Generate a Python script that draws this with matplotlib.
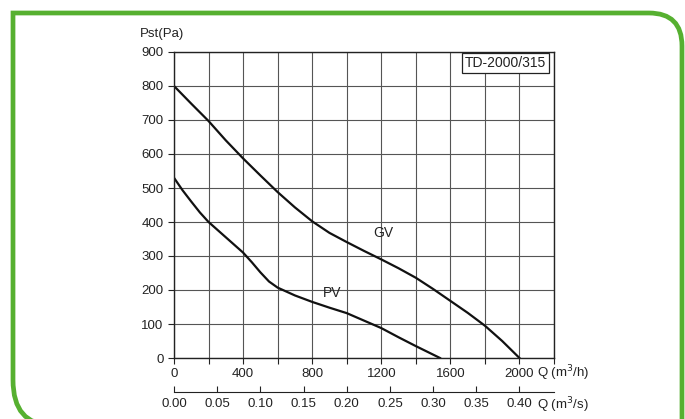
import matplotlib.pyplot as plt
from matplotlib.path import Path
from matplotlib.patches import PathPatch

plt.rcParams['font.family'] = ['Liberation Sans', 'DejaVu Sans']

# curve data (Q in m3/h, Pst in Pa)
gv_q = [0, 100, 200, 300, 400, 500, 600, 700, 800, 900, 1000,
        1100, 1200, 1300, 1400, 1500, 1600, 1700, 1800, 1900, 2000]
gv_p = [800, 748, 697, 640, 587, 537, 488, 443, 402, 368, 341,
        315, 290, 264, 236, 203, 168, 133, 95, 50, 0]

pv_q = [0, 50, 100, 150, 200, 300, 400, 450, 500, 550, 600, 700, 800, 900, 1000,
        1100, 1200, 1300, 1400, 1540]
pv_p = [530, 493, 460, 428, 400, 355, 310, 282, 252, 225, 207, 184, 165, 148, 132,
        110, 88, 61, 35, 0]

y_ticks = [0, 100, 200, 300, 400, 500, 600, 700, 800, 900]
x_labels = [0, 400, 800, 1200, 1600, 2000]
q_s_ticks = [0.00, 0.05, 0.10, 0.15, 0.20, 0.25, 0.30, 0.35, 0.40]

W, H = 685, 419
fig = plt.figure(figsize=(W / 100, H / 100), dpi=100)

# green frame around the card
green = '#56b030'
verts = [(52, H + 6), (13, H + 6), (13, 380), (13, 13), (682 - 33, 13),
         (682, 13), (682, 13 + 33), (682, H + 5)]
codes = [Path.MOVETO, Path.CURVE3, Path.CURVE3, Path.LINETO, Path.LINETO,
         Path.CURVE3, Path.CURVE3, Path.LINETO]
fverts = [(x / W, 1 - y / H) for x, y in verts]
fig.patches.append(PathPatch(Path(fverts, codes), transform=fig.transFigure, fill=False,
                             edgecolor=green, lw=3.4, clip_on=False))

ax = fig.add_axes([174 / W, (H - 358) / H, 380 / W, 306 / H])
ax.set_xlim(0, 2200)
ax.set_ylim(0, 900)

ax.set_yticks(y_ticks)
ax.set_xticks(range(0, 2201, 200))
ax.set_xticklabels([str(v) if v in x_labels else '' for v in range(0, 2201, 200)])
ax.grid(True, color='#555555', lw=0.8)
ax.set_axisbelow(True)
for s in ax.spines.values():
    s.set_color('#222222')
    s.set_linewidth(1.0)
ax.tick_params(colors='#222222', labelsize=9.5, length=4, width=0.8)

ax.plot(gv_q, gv_p, color='#111111', lw=1.6)
ax.plot(pv_q, pv_p, color='#111111', lw=1.6)

ax.text(1210, 367, 'GV', fontsize=10, color='#222222', ha='center', va='center')
ax.text(918, 191, 'PV', fontsize=10, color='#222222', ha='center', va='center')
ax.text(1920, 867, 'TD-2000/315', fontsize=10, color='#222222', ha='center', va='center',
        bbox=dict(boxstyle='square,pad=0.2', facecolor='white', edgecolor='#222222', lw=0.9))

ax.text(-0.089, 1.059, 'Pst(Pa)', transform=ax.transAxes, fontsize=9.5,
        color='#222222', ha='left', va='center')
ax.text(0.955, -0.049, 'Q (m$^3$/h)', transform=ax.transAxes, fontsize=9.5,
        color='#222222', ha='left', va='center')

# second axis in m3/s
sec = ax.secondary_xaxis(-0.111, functions=(lambda x: x * 0.0002, lambda x: x / 0.0002))
sec.set_xticks(q_s_ticks)
sec.set_xticklabels([f'{v:.2f}' for v in q_s_ticks])
sec.tick_params(direction='in', length=4, width=0.8, colors='#222222', labelsize=9.5, pad=4)
sec.spines['bottom'].set_color('#222222')
ax.text(0.955, -0.154, 'Q (m$^3$/s)', transform=ax.transAxes, fontsize=9.5,
        color='#222222', ha='left', va='center')

fig.savefig('out.png', dpi=100)
